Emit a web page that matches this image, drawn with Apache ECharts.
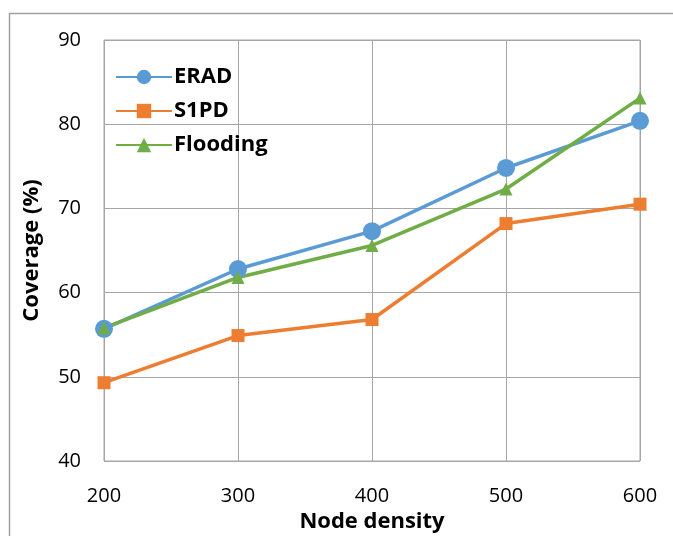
<!DOCTYPE html>
<html>
<head>
<meta charset="utf-8">
<script src="https://cdn.jsdelivr.net/npm/echarts@6/dist/echarts.min.js"></script>
<style>
  html, body { margin: 0; padding: 0; background: #fff; }
  #chart { width: 673px; height: 536px; }
</style>
</head>
<body>
<div id="chart"></div>
<script>
// Node density values on the horizontal axis
const nodeDensity = [200, 300, 400, 500, 600];
// Coverage (%) per protocol
const eradValues = [55.7, 62.8, 67.3, 74.8, 80.4];
const s1pdValues = [49.3, 54.9, 56.8, 68.2, 70.5];
const floodingValues = [55.8, 61.8, 65.6, 72.3, 83.1];
const seriesNames = ['ERAD', 'S1PD', 'Flooding'];

const pair = (xs, ys) => xs.map((x, i) => [x, ys[i]]);

const chart = echarts.init(document.getElementById('chart'), null, { renderer: 'canvas' });
const gridColor = '#a6a6a6';
const textFont = 'Open Sans, Liberation Sans, sans-serif';

chart.setOption({
  animation: false,
  backgroundColor: '#fff',
  graphic: [{
    type: 'rect',
    shape: { x: 9.5, y: 13.5, width: 700, height: 600 },
    style: { fill: 'none', stroke: '#a0a0a0', lineWidth: 1.5 },
    silent: true
  }],
  grid: {
    left: 104, right: 33, top: 40, bottom: 75,
    outerBoundsMode: 'none',
    show: true, borderColor: gridColor, borderWidth: 1
  },
  legend: {
    orient: 'vertical',
    left: 110, top: 61,
    itemGap: 12,
    itemWidth: 56, itemHeight: 18,
    data: seriesNames,
    textStyle: { fontFamily: textFont, fontWeight: 'bold', fontSize: 22, color: '#000', padding: [0, 0, 0, -3] }
  },
  xAxis: {
    type: 'value',
    min: 200, max: 600, interval: 100,
    name: 'Node density',
    nameLocation: 'middle',
    nameGap: 47,
    nameTextStyle: { fontFamily: textFont, fontWeight: 'bold', fontSize: 22, color: '#000' },
    axisLine: { show: false },
    axisTick: { show: false },
    axisLabel: { fontFamily: textFont, fontSize: 20, color: '#000', margin: 25 },
    splitLine: { show: true, lineStyle: { color: gridColor, width: 1 } }
  },
  yAxis: {
    type: 'value',
    min: 40, max: 90, interval: 10,
    name: 'Coverage (%)',
    nameLocation: 'middle',
    nameGap: 61,
    nameRotate: 90,
    nameTextStyle: { fontFamily: textFont, fontWeight: 'bold', fontSize: 22, color: '#000' },
    axisLine: { show: false },
    axisTick: { show: false },
    axisLabel: { fontFamily: textFont, fontSize: 20, color: '#000', margin: 23 },
    splitLine: { show: true, lineStyle: { color: gridColor, width: 1 } }
  },
  series: [
    {
      name: seriesNames[0], type: 'line',
      data: pair(nodeDensity, eradValues),
      symbol: 'circle', symbolSize: 18,
      itemStyle: { color: '#5b9bd5' },
      lineStyle: { color: '#5b9bd5', width: 3.5 }
    },
    {
      name: seriesNames[1], type: 'line',
      data: pair(nodeDensity, s1pdValues),
      symbol: 'rect', symbolSize: 13,
      itemStyle: { color: '#ed7d31' },
      lineStyle: { color: '#ed7d31', width: 3.5 }
    },
    {
      name: seriesNames[2], type: 'line',
      data: pair(nodeDensity, floodingValues),
      symbol: 'triangle', symbolSize: 13,
      itemStyle: { color: '#70ad47' },
      lineStyle: { color: '#70ad47', width: 3.5 }
    }
  ]
});
</script>
</body>
</html>
